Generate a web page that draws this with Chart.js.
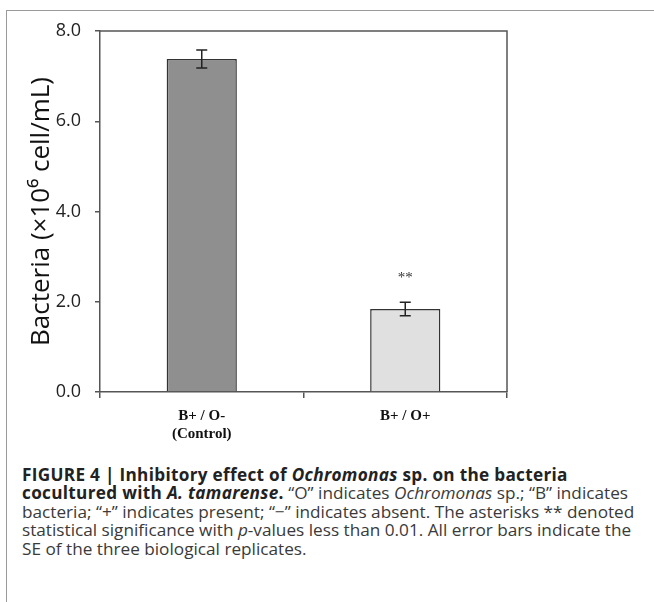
<!DOCTYPE html>
<html>
<head>
<meta charset="utf-8">
<script src="https://cdn.jsdelivr.net/npm/chart.js"></script>
<style>
  body { margin: 0; background: #fff; width: 654px; height: 602px; overflow: hidden; position: relative; }
  #frame { position: absolute; left: 6px; top: 10px; width: 660px; height: 600px;
           border-left: 1.5px solid #9a9a9a; border-top: 1.5px solid #9a9a9a; }
  #wrap { position: absolute; left: 0; top: 0; width: 654px; height: 460px; }
  #caption { position: absolute; left: 22px; top: 466px; font-family: "Open Sans", Roboto, sans-serif;
             font-size: 17.2px; line-height: 18.4px; color: #3a3a3a; white-space: nowrap; }
  #caption b { color: #222; letter-spacing: 0.3px; }
</style>
</head>
<body>
<div id="frame"></div>
<div id="wrap"><canvas id="chart" width="654" height="460"></canvas></div>
<div id="caption">
<b>FIGURE 4 | Inhibitory effect of <i>Ochromonas</i> sp. on the bacteria</b><br>
<b>cocultured with <i>A. tamarense</i>.</b> “O” indicates <i>Ochromonas</i> sp.; “B” indicates<br>
bacteria; “+” indicates present; “−” indicates absent. The asterisks ** denoted<br>
statistical significance with <i>p</i>-values less than 0.01. All error bars indicate the<br>
SE of the three biological replicates.
</div>
<script>
// --- data ---
const categories = [["B+ / O-", "(Control)"], "B+ / O+"];
const bacteria = [7.38, 1.84];
const errors = [0.2, 0.15];
const marks = ["", "**"];
const barColors = ["#8f8f8f", "#e0e0e0"];
const yTicks = [0, 2, 4, 6, 8];

// error bars, significance marks and plot box
const extras = {
  id: "extras",
  afterDatasetsDraw(chart) {
    const ctx = chart.ctx;
    const x = chart.scales.x, y = chart.scales.y;
    const area = chart.chartArea;
    ctx.save();
    ctx.strokeStyle = "#555";
    ctx.lineWidth = 1.5;
    ctx.beginPath();
    ctx.moveTo(area.left, area.top);
    ctx.lineTo(area.right, area.top);
    ctx.lineTo(area.right, area.bottom);
    ctx.stroke();

    ctx.strokeStyle = "#222";
    ctx.lineWidth = 1.5;
    bacteria.forEach((v, i) => {
      const cx = x.getPixelForValue(i);
      const hi = y.getPixelForValue(v + errors[i]);
      const lo = y.getPixelForValue(v - errors[i]);
      ctx.beginPath();
      ctx.moveTo(cx, hi); ctx.lineTo(cx, lo);
      ctx.moveTo(cx - 5.5, hi); ctx.lineTo(cx + 5.5, hi);
      ctx.moveTo(cx - 5.5, lo); ctx.lineTo(cx + 5.5, lo);
      ctx.stroke();
      if (marks[i]) {
        ctx.fillStyle = "#333";
        ctx.font = "15px 'Liberation Serif', serif";
        ctx.textAlign = "center";
        ctx.textBaseline = "middle";
        ctx.fillText(marks[i], cx, hi - 24);
      }
    });
    ctx.restore();
  }
};

new Chart(document.getElementById("chart"), {
  type: "bar",
  data: {
    labels: categories,
    datasets: [{
      data: bacteria,
      backgroundColor: barColors,
      borderColor: "#333",
      borderWidth: 1.5,
      categoryPercentage: 0.69,
      barPercentage: 0.5
    }]
  },
  options: {
    responsive: false,
    animation: false,
    layout: { padding: { top: 31, right: 147, left: 26, bottom: 0 } },
    plugins: { legend: { display: false }, tooltip: { enabled: false } },
    scales: {
      x: {
        grid: { drawOnChartArea: false, tickLength: 6, color: "#555", lineWidth: 1.5 },
        border: { color: "#555", width: 1.5 },
        ticks: { color: "#111", font: { family: "'Liberation Serif', serif", size: 15, weight: "bold" },
                 padding: 9, maxRotation: 0 },
        afterFit(s) { s.height = 68; }
      },
      y: {
        min: 0, max: 8,
        afterBuildTicks(s) { s.ticks = yTicks.map(v => ({ value: v })); },
        grid: { drawOnChartArea: false, tickLength: 5, color: "#555", lineWidth: 1.5 },
        border: { color: "#555", width: 1.5 },
        ticks: { color: "#222", font: { family: "'Open Sans', sans-serif", size: 18 }, padding: 14,
                 callback: v => v.toFixed(1) },
        title: { display: true, text: "Bacteria (×10⁶ cell/mL)", color: "#111",
                 font: { family: "'Open Sans', sans-serif", size: 26 }, padding: { top: 0, bottom: 0 } },
        afterFit(s) { s.width = 74; }
      }
    }
  },
  plugins: [extras]
});
</script>
</body>
</html>
